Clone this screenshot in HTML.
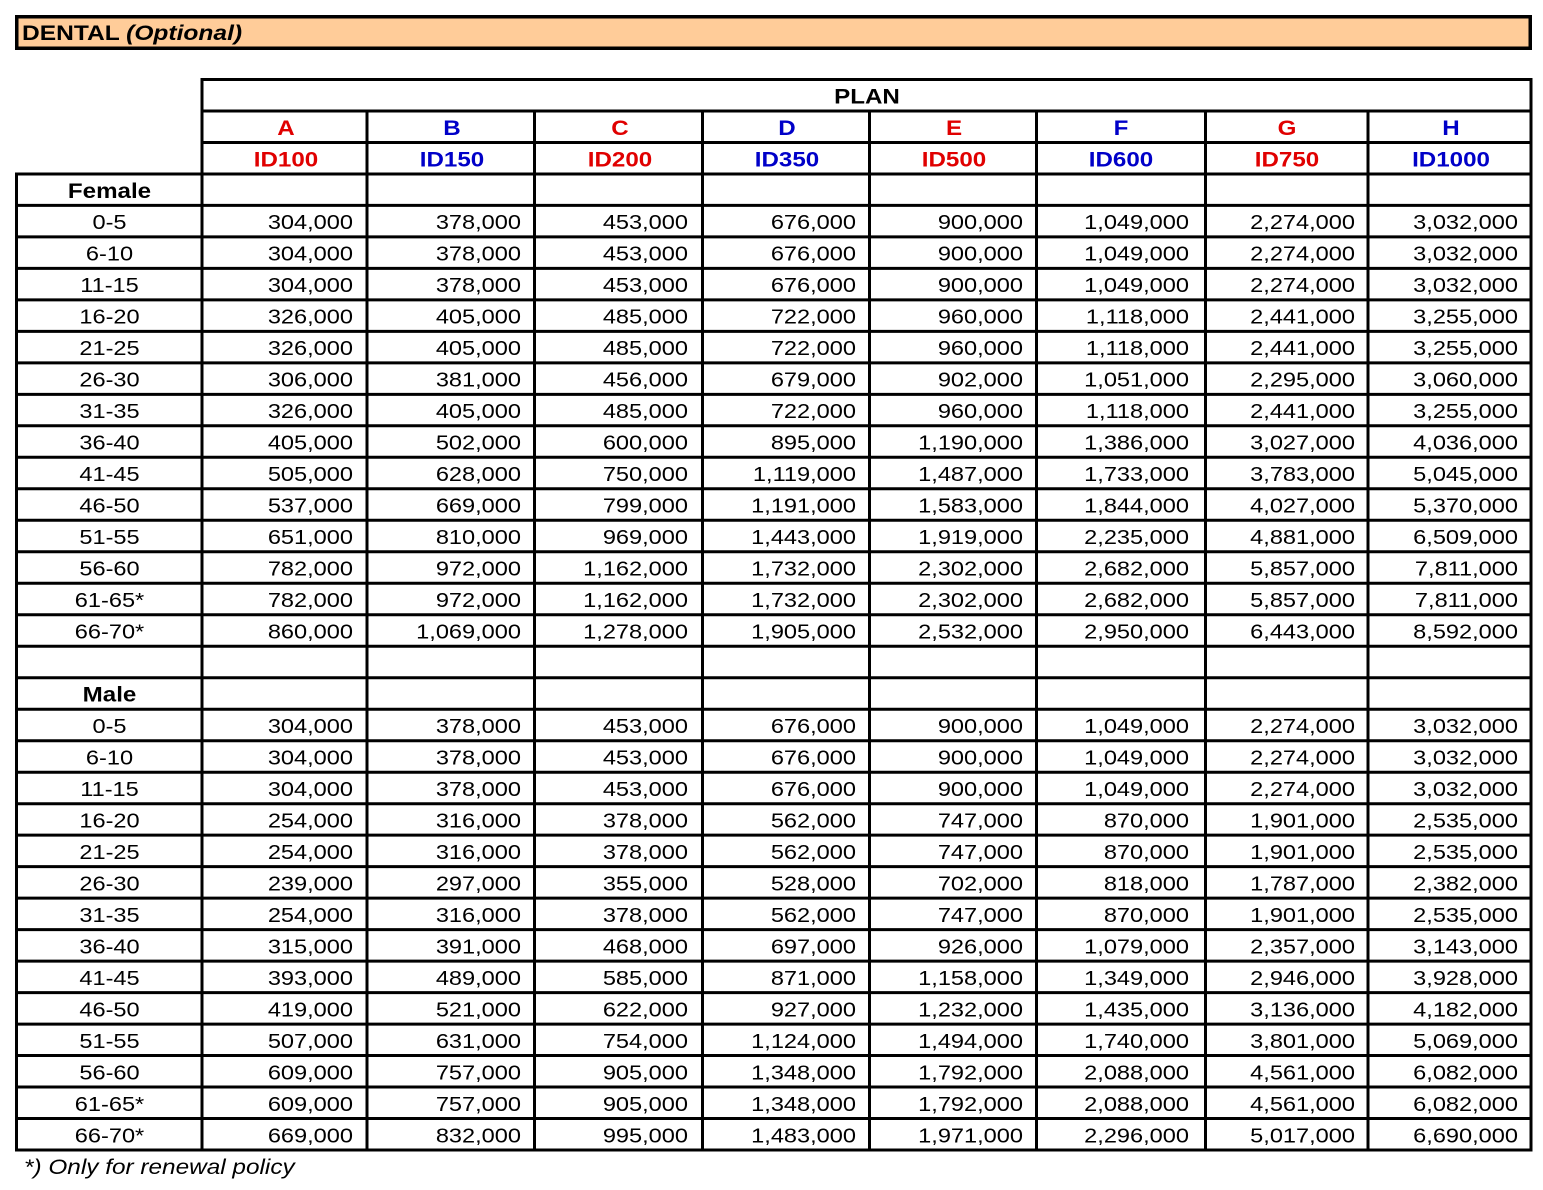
<!DOCTYPE html>
<html><head><meta charset="utf-8"><style>
html,body{margin:0;padding:0;background:#fff;}
svg{display:block;font-family:"Liberation Sans",Arial,sans-serif;font-size:20.5px;}
.b{font-weight:bold;font-size:21px;}
.r{fill:#E00000;}
.u{fill:#0000C8;}
</style></head><body>
<svg width="1543" height="1190" viewBox="0 0 1543 1190" xmlns="http://www.w3.org/2000/svg">
<rect x="0" y="0" width="1543" height="1190" fill="#fff"/>
<!-- title bar -->
<rect x="16.75" y="16.75" width="1513.5" height="31.5" fill="#FFCC99" stroke="#000" stroke-width="3.5"/>
<text class="b" transform="translate(22,40) scale(1.17,1)">DENTAL <tspan font-style="italic">(Optional)</tspan></text>

<!-- grid lines -->
<g stroke="#000" stroke-width="3" fill="none">
<line x1="200.5" y1="79.5" x2="1532.5" y2="79.5"/>
<line x1="200.5" y1="111.0" x2="1532.5" y2="111.0"/>
<line x1="200.5" y1="142.5" x2="1532.5" y2="142.5"/>
<line x1="15" y1="174.0" x2="1532.5" y2="174.0"/>
<line x1="15" y1="205.4" x2="1532.5" y2="205.4"/>
<line x1="15" y1="236.9" x2="1532.5" y2="236.9"/>
<line x1="15" y1="268.4" x2="1532.5" y2="268.4"/>
<line x1="15" y1="299.9" x2="1532.5" y2="299.9"/>
<line x1="15" y1="331.4" x2="1532.5" y2="331.4"/>
<line x1="15" y1="362.9" x2="1532.5" y2="362.9"/>
<line x1="15" y1="394.4" x2="1532.5" y2="394.4"/>
<line x1="15" y1="425.8" x2="1532.5" y2="425.8"/>
<line x1="15" y1="457.3" x2="1532.5" y2="457.3"/>
<line x1="15" y1="488.8" x2="1532.5" y2="488.8"/>
<line x1="15" y1="520.3" x2="1532.5" y2="520.3"/>
<line x1="15" y1="551.8" x2="1532.5" y2="551.8"/>
<line x1="15" y1="583.3" x2="1532.5" y2="583.3"/>
<line x1="15" y1="614.7" x2="1532.5" y2="614.7"/>
<line x1="15" y1="646.2" x2="1532.5" y2="646.2"/>
<line x1="15" y1="677.7" x2="1532.5" y2="677.7"/>
<line x1="15" y1="709.2" x2="1532.5" y2="709.2"/>
<line x1="15" y1="740.7" x2="1532.5" y2="740.7"/>
<line x1="15" y1="772.2" x2="1532.5" y2="772.2"/>
<line x1="15" y1="803.7" x2="1532.5" y2="803.7"/>
<line x1="15" y1="835.1" x2="1532.5" y2="835.1"/>
<line x1="15" y1="866.6" x2="1532.5" y2="866.6"/>
<line x1="15" y1="898.1" x2="1532.5" y2="898.1"/>
<line x1="15" y1="929.6" x2="1532.5" y2="929.6"/>
<line x1="15" y1="961.1" x2="1532.5" y2="961.1"/>
<line x1="15" y1="992.6" x2="1532.5" y2="992.6"/>
<line x1="15" y1="1024.1" x2="1532.5" y2="1024.1"/>
<line x1="15" y1="1055.5" x2="1532.5" y2="1055.5"/>
<line x1="15" y1="1087.0" x2="1532.5" y2="1087.0"/>
<line x1="15" y1="1118.5" x2="1532.5" y2="1118.5"/>
<line x1="15" y1="1150.0" x2="1532.5" y2="1150.0"/>
<line x1="16.5" y1="172.5" x2="16.5" y2="1151.5"/>
<line x1="202" y1="78" x2="202" y2="1151.5"/>
<line x1="367" y1="111" x2="367" y2="1151.5"/>
<line x1="534.5" y1="111" x2="534.5" y2="1151.5"/>
<line x1="702.5" y1="111" x2="702.5" y2="1151.5"/>
<line x1="869.5" y1="111" x2="869.5" y2="1151.5"/>
<line x1="1036.5" y1="111" x2="1036.5" y2="1151.5"/>
<line x1="1205.5" y1="111" x2="1205.5" y2="1151.5"/>
<line x1="1368" y1="111" x2="1368" y2="1151.5"/>
<line x1="1531" y1="78" x2="1531" y2="1151.5"/>
</g>

<!-- headers -->
<text class="b" text-anchor="middle" transform="translate(867,103.3) scale(1.15,1)">PLAN</text>
<g class="b" text-anchor="middle">
<text class="r" transform="translate(286,134.8) scale(1.15,1)">A</text>
<text class="u" transform="translate(452,134.8) scale(1.15,1)">B</text>
<text class="r" transform="translate(620,134.8) scale(1.15,1)">C</text>
<text class="u" transform="translate(787,134.8) scale(1.15,1)">D</text>
<text class="r" transform="translate(954,134.8) scale(1.15,1)">E</text>
<text class="u" transform="translate(1121,134.8) scale(1.15,1)">F</text>
<text class="r" transform="translate(1287,134.8) scale(1.15,1)">G</text>
<text class="u" transform="translate(1451,134.8) scale(1.15,1)">H</text>
<text class="r" transform="translate(286,166.3) scale(1.15,1)">ID100</text>
<text class="u" transform="translate(452,166.3) scale(1.15,1)">ID150</text>
<text class="r" transform="translate(620,166.3) scale(1.15,1)">ID200</text>
<text class="u" transform="translate(787,166.3) scale(1.15,1)">ID350</text>
<text class="r" transform="translate(954,166.3) scale(1.15,1)">ID500</text>
<text class="u" transform="translate(1121,166.3) scale(1.15,1)">ID600</text>
<text class="r" transform="translate(1287,166.3) scale(1.15,1)">ID750</text>
<text class="u" transform="translate(1451,166.3) scale(1.15,1)">ID1000</text>
</g>

<!-- first column -->
<g transform="translate(109.5,0) scale(1.15,1)" text-anchor="middle">
<text class="b" y="197.8">Female</text>
<text y="229.2">0-5</text>
<text y="260.7">6-10</text>
<text y="292.2">11-15</text>
<text y="323.7">16-20</text>
<text y="355.2">21-25</text>
<text y="386.7">26-30</text>
<text y="418.2">31-35</text>
<text y="449.6">36-40</text>
<text y="481.1">41-45</text>
<text y="512.6">46-50</text>
<text y="544.1">51-55</text>
<text y="575.6">56-60</text>
<text y="607.1">61-65*</text>
<text y="638.5">66-70*</text>
<text class="b" y="701.5">Male</text>
<text y="733.0">0-5</text>
<text y="764.5">6-10</text>
<text y="796.0">11-15</text>
<text y="827.5">16-20</text>
<text y="858.9">21-25</text>
<text y="890.4">26-30</text>
<text y="921.9">31-35</text>
<text y="953.4">36-40</text>
<text y="984.9">41-45</text>
<text y="1016.4">46-50</text>
<text y="1047.9">51-55</text>
<text y="1079.3">56-60</text>
<text y="1110.8">61-65*</text>
<text y="1142.3">66-70*</text>
</g>

<!-- column A -->
<g transform="translate(353,0) scale(1.15,1)" text-anchor="end">
<text y="229.2">304,000</text><text y="260.7">304,000</text><text y="292.2">304,000</text><text y="323.7">326,000</text><text y="355.2">326,000</text><text y="386.7">306,000</text><text y="418.2">326,000</text><text y="449.6">405,000</text><text y="481.1">505,000</text><text y="512.6">537,000</text><text y="544.1">651,000</text><text y="575.6">782,000</text><text y="607.1">782,000</text><text y="638.5">860,000</text>
<text y="733.0">304,000</text><text y="764.5">304,000</text><text y="796.0">304,000</text><text y="827.5">254,000</text><text y="858.9">254,000</text><text y="890.4">239,000</text><text y="921.9">254,000</text><text y="953.4">315,000</text><text y="984.9">393,000</text><text y="1016.4">419,000</text><text y="1047.9">507,000</text><text y="1079.3">609,000</text><text y="1110.8">609,000</text><text y="1142.3">669,000</text>
</g>

<!-- column B -->
<g transform="translate(521,0) scale(1.15,1)" text-anchor="end">
<text y="229.2">378,000</text><text y="260.7">378,000</text><text y="292.2">378,000</text><text y="323.7">405,000</text><text y="355.2">405,000</text><text y="386.7">381,000</text><text y="418.2">405,000</text><text y="449.6">502,000</text><text y="481.1">628,000</text><text y="512.6">669,000</text><text y="544.1">810,000</text><text y="575.6">972,000</text><text y="607.1">972,000</text><text y="638.5">1,069,000</text>
<text y="733.0">378,000</text><text y="764.5">378,000</text><text y="796.0">378,000</text><text y="827.5">316,000</text><text y="858.9">316,000</text><text y="890.4">297,000</text><text y="921.9">316,000</text><text y="953.4">391,000</text><text y="984.9">489,000</text><text y="1016.4">521,000</text><text y="1047.9">631,000</text><text y="1079.3">757,000</text><text y="1110.8">757,000</text><text y="1142.3">832,000</text>
</g>

<!-- column C -->
<g transform="translate(688,0) scale(1.15,1)" text-anchor="end">
<text y="229.2">453,000</text><text y="260.7">453,000</text><text y="292.2">453,000</text><text y="323.7">485,000</text><text y="355.2">485,000</text><text y="386.7">456,000</text><text y="418.2">485,000</text><text y="449.6">600,000</text><text y="481.1">750,000</text><text y="512.6">799,000</text><text y="544.1">969,000</text><text y="575.6">1,162,000</text><text y="607.1">1,162,000</text><text y="638.5">1,278,000</text>
<text y="733.0">453,000</text><text y="764.5">453,000</text><text y="796.0">453,000</text><text y="827.5">378,000</text><text y="858.9">378,000</text><text y="890.4">355,000</text><text y="921.9">378,000</text><text y="953.4">468,000</text><text y="984.9">585,000</text><text y="1016.4">622,000</text><text y="1047.9">754,000</text><text y="1079.3">905,000</text><text y="1110.8">905,000</text><text y="1142.3">995,000</text>
</g>

<!-- column D -->
<g transform="translate(856,0) scale(1.15,1)" text-anchor="end">
<text y="229.2">676,000</text><text y="260.7">676,000</text><text y="292.2">676,000</text><text y="323.7">722,000</text><text y="355.2">722,000</text><text y="386.7">679,000</text><text y="418.2">722,000</text><text y="449.6">895,000</text><text y="481.1">1,119,000</text><text y="512.6">1,191,000</text><text y="544.1">1,443,000</text><text y="575.6">1,732,000</text><text y="607.1">1,732,000</text><text y="638.5">1,905,000</text>
<text y="733.0">676,000</text><text y="764.5">676,000</text><text y="796.0">676,000</text><text y="827.5">562,000</text><text y="858.9">562,000</text><text y="890.4">528,000</text><text y="921.9">562,000</text><text y="953.4">697,000</text><text y="984.9">871,000</text><text y="1016.4">927,000</text><text y="1047.9">1,124,000</text><text y="1079.3">1,348,000</text><text y="1110.8">1,348,000</text><text y="1142.3">1,483,000</text>
</g>

<!-- column E -->
<g transform="translate(1023,0) scale(1.15,1)" text-anchor="end">
<text y="229.2">900,000</text><text y="260.7">900,000</text><text y="292.2">900,000</text><text y="323.7">960,000</text><text y="355.2">960,000</text><text y="386.7">902,000</text><text y="418.2">960,000</text><text y="449.6">1,190,000</text><text y="481.1">1,487,000</text><text y="512.6">1,583,000</text><text y="544.1">1,919,000</text><text y="575.6">2,302,000</text><text y="607.1">2,302,000</text><text y="638.5">2,532,000</text>
<text y="733.0">900,000</text><text y="764.5">900,000</text><text y="796.0">900,000</text><text y="827.5">747,000</text><text y="858.9">747,000</text><text y="890.4">702,000</text><text y="921.9">747,000</text><text y="953.4">926,000</text><text y="984.9">1,158,000</text><text y="1016.4">1,232,000</text><text y="1047.9">1,494,000</text><text y="1079.3">1,792,000</text><text y="1110.8">1,792,000</text><text y="1142.3">1,971,000</text>
</g>

<!-- column F -->
<g transform="translate(1189,0) scale(1.15,1)" text-anchor="end">
<text y="229.2">1,049,000</text><text y="260.7">1,049,000</text><text y="292.2">1,049,000</text><text y="323.7">1,118,000</text><text y="355.2">1,118,000</text><text y="386.7">1,051,000</text><text y="418.2">1,118,000</text><text y="449.6">1,386,000</text><text y="481.1">1,733,000</text><text y="512.6">1,844,000</text><text y="544.1">2,235,000</text><text y="575.6">2,682,000</text><text y="607.1">2,682,000</text><text y="638.5">2,950,000</text>
<text y="733.0">1,049,000</text><text y="764.5">1,049,000</text><text y="796.0">1,049,000</text><text y="827.5">870,000</text><text y="858.9">870,000</text><text y="890.4">818,000</text><text y="921.9">870,000</text><text y="953.4">1,079,000</text><text y="984.9">1,349,000</text><text y="1016.4">1,435,000</text><text y="1047.9">1,740,000</text><text y="1079.3">2,088,000</text><text y="1110.8">2,088,000</text><text y="1142.3">2,296,000</text>
</g>

<!-- column G -->
<g transform="translate(1355,0) scale(1.15,1)" text-anchor="end">
<text y="229.2">2,274,000</text><text y="260.7">2,274,000</text><text y="292.2">2,274,000</text><text y="323.7">2,441,000</text><text y="355.2">2,441,000</text><text y="386.7">2,295,000</text><text y="418.2">2,441,000</text><text y="449.6">3,027,000</text><text y="481.1">3,783,000</text><text y="512.6">4,027,000</text><text y="544.1">4,881,000</text><text y="575.6">5,857,000</text><text y="607.1">5,857,000</text><text y="638.5">6,443,000</text>
<text y="733.0">2,274,000</text><text y="764.5">2,274,000</text><text y="796.0">2,274,000</text><text y="827.5">1,901,000</text><text y="858.9">1,901,000</text><text y="890.4">1,787,000</text><text y="921.9">1,901,000</text><text y="953.4">2,357,000</text><text y="984.9">2,946,000</text><text y="1016.4">3,136,000</text><text y="1047.9">3,801,000</text><text y="1079.3">4,561,000</text><text y="1110.8">4,561,000</text><text y="1142.3">5,017,000</text>
</g>

<!-- column H -->
<g transform="translate(1518,0) scale(1.15,1)" text-anchor="end">
<text y="229.2">3,032,000</text><text y="260.7">3,032,000</text><text y="292.2">3,032,000</text><text y="323.7">3,255,000</text><text y="355.2">3,255,000</text><text y="386.7">3,060,000</text><text y="418.2">3,255,000</text><text y="449.6">4,036,000</text><text y="481.1">5,045,000</text><text y="512.6">5,370,000</text><text y="544.1">6,509,000</text><text y="575.6">7,811,000</text><text y="607.1">7,811,000</text><text y="638.5">8,592,000</text>
<text y="733.0">3,032,000</text><text y="764.5">3,032,000</text><text y="796.0">3,032,000</text><text y="827.5">2,535,000</text><text y="858.9">2,535,000</text><text y="890.4">2,382,000</text><text y="921.9">2,535,000</text><text y="953.4">3,143,000</text><text y="984.9">3,928,000</text><text y="1016.4">4,182,000</text><text y="1047.9">5,069,000</text><text y="1079.3">6,082,000</text><text y="1110.8">6,082,000</text><text y="1142.3">6,690,000</text>
</g>

<!-- footnote -->
<text font-style="italic" font-size="21" transform="translate(24,1174) scale(1.16,1)">*) Only for renewal policy</text>
</svg>
</body></html>
